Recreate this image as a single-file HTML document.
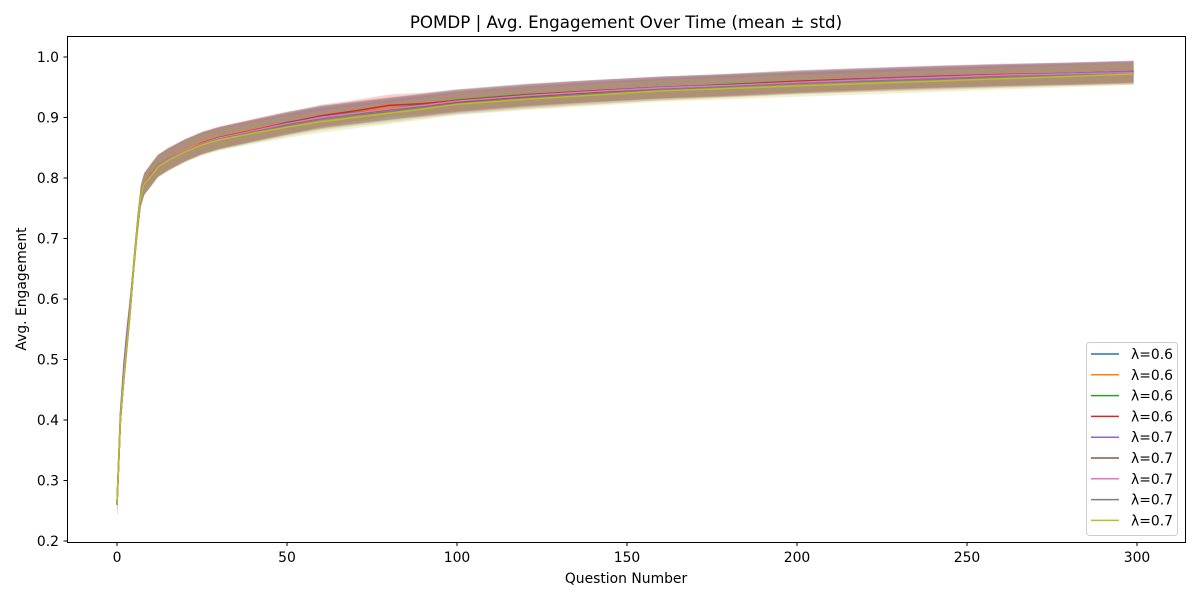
<!DOCTYPE html>
<html><head><meta charset="utf-8">
<style>
body{margin:0;background:#fff;}
svg text{font-family:"DejaVu Sans","Liberation Sans",sans-serif;fill:#000;}
</style></head>
<body>
<svg id="chart" width="1200" height="600" xmlns="http://www.w3.org/2000/svg">
<rect width="1200" height="600" fill="#fff"/>
<text x="626" y="28" text-anchor="middle" font-size="16.7">POMDP | Avg. Engagement Over Time (mean ± std)</text>
<g id="bands"></g>
<g id="lines"></g>
<rect x="67.5" y="36.5" width="1118" height="506" fill="none" stroke="#000" stroke-width="1"/>
<g id="xticks"></g>
<g id="yticks"></g>
<text x="626" y="583" text-anchor="middle" font-size="13.9">Question Number</text>
<text transform="translate(26,289) rotate(-90)" text-anchor="middle" font-size="13.9">Avg. Engagement</text>
<g id="legend"></g>
</svg>
<script>
const xs=[0,1,2,3,4,5,6,7,8,10,12,15,20,25,30,40,50,60,70,80,90,100,120,140,160,180,200,220,240,260,280,299];
const s1=[0.26,0.40,0.47,0.53,0.59,0.66,0.72,0.77,0.79,0.805,0.82,0.83,0.846,0.858,0.866,0.879,0.892,0.901,0.908,0.915,0.921,0.928,0.937,0.944,0.950,0.954,0.959,0.963,0.967,0.970,0.973,0.976];
const s2=[0.26,0.41,0.47,0.54,0.59,0.66,0.72,0.77,0.79,0.806,0.82,0.832,0.847,0.859,0.867,0.88,0.891,0.900,0.909,0.916,0.920,0.927,0.936,0.943,0.949,0.953,0.958,0.962,0.966,0.969,0.972,0.975];
const s3=[0.26,0.40,0.48,0.53,0.60,0.66,0.72,0.77,0.79,0.805,0.821,0.831,0.846,0.857,0.866,0.878,0.890,0.902,0.908,0.914,0.922,0.929,0.938,0.944,0.949,0.955,0.960,0.964,0.967,0.970,0.972,0.975];
const s4=[0.26,0.40,0.47,0.53,0.59,0.66,0.72,0.77,0.79,0.806,0.82,0.831,0.845,0.858,0.867,0.879,0.891,0.903,0.911,0.920,0.923,0.928,0.937,0.944,0.950,0.954,0.960,0.964,0.968,0.971,0.973,0.976];
const s5=[0.26,0.41,0.49,0.55,0.60,0.66,0.72,0.77,0.79,0.805,0.82,0.832,0.846,0.857,0.866,0.878,0.889,0.901,0.907,0.914,0.920,0.926,0.936,0.943,0.950,0.953,0.958,0.963,0.967,0.970,0.973,0.976];
const s6=[0.26,0.40,0.47,0.53,0.59,0.66,0.72,0.77,0.79,0.804,0.819,0.83,0.845,0.857,0.865,0.877,0.889,0.899,0.906,0.913,0.919,0.925,0.934,0.941,0.947,0.952,0.957,0.961,0.965,0.968,0.971,0.974];
const s7=[0.26,0.40,0.47,0.53,0.59,0.66,0.72,0.77,0.79,0.805,0.82,0.831,0.846,0.857,0.866,0.878,0.890,0.900,0.907,0.914,0.920,0.927,0.936,0.943,0.949,0.953,0.958,0.962,0.966,0.970,0.972,0.974];
const s8=[0.26,0.40,0.47,0.53,0.59,0.66,0.72,0.77,0.79,0.804,0.819,0.83,0.844,0.856,0.864,0.876,0.887,0.897,0.904,0.910,0.917,0.923,0.932,0.939,0.946,0.951,0.956,0.960,0.963,0.967,0.970,0.972];
const s9=[0.26,0.40,0.47,0.53,0.59,0.66,0.72,0.77,0.79,0.803,0.818,0.829,0.843,0.855,0.863,0.874,0.884,0.893,0.900,0.907,0.914,0.922,0.930,0.937,0.944,0.948,0.952,0.956,0.960,0.964,0.968,0.972];
const series=[s1,s2,s3,s4,s5,s6,s7,s8,s9];
const labels=["λ=0.6","λ=0.6","λ=0.6","λ=0.6","λ=0.7","λ=0.7","λ=0.7","λ=0.7","λ=0.7"];
const stds=[0.018,0.018,0.018,0.018,0.018,0.018,0.018,0.018,0.018];
const xTicks=[0,50,100,150,200,250,300];
const yTicks=[0.2,0.3,0.4,0.5,0.6,0.7,0.8,0.9,1.0];
const colors=["#1f77b4","#ff7f0e","#2ca02c","#d62728","#9467bd","#8c564b","#e377c2","#7f7f7f","#bcbd22"];
const X=v=>117+v*3.4, Y=v=>541-(v-0.2)*605;
const NS="http://www.w3.org/2000/svg";
function mk(t,a,p){const e=document.createElementNS(NS,t);for(const k in a)e.setAttribute(k,a[k]);p.appendChild(e);return e;}
const bands=document.getElementById('bands'),lines=document.getElementById('lines');
series.forEach((s,i)=>{
 const up=s.map((v,j)=>X(xs[j])+','+Y(v+stds[i]));
 const dn=s.map((v,j)=>X(xs[j])+','+Y(v-stds[i])).reverse();
 const b=mk('polygon',{points:up.concat(dn).join(' '),fill:colors[i],'fill-opacity':0.2},bands);
 
 
});
series.forEach((s,i)=>{
 const l=mk('polyline',{points:s.map((v,j)=>X(xs[j])+','+Y(v)).join(' '),fill:'none',stroke:colors[i],'stroke-width':1.5},lines);
 
 
});
const xt=document.getElementById('xticks');
xTicks.forEach(t=>{
 mk('line',{x1:X(t),x2:X(t),y1:542.5,y2:546,stroke:'#000'},xt);
 const tx=mk('text',{x:X(t),y:562,'text-anchor':'middle','font-size':'13.9'},xt);tx.textContent=t;
 
 
});
const yt=document.getElementById('yticks');
yTicks.forEach(t=>{
 mk('line',{x1:63.5,x2:67.5,y1:Y(t),y2:Y(t),stroke:'#000'},yt);
 const tx=mk('text',{x:59,y:Y(t)+5,'text-anchor':'end','font-size':'13.9'},yt);tx.textContent=t.toFixed(1);
 
 
});
const lg=document.getElementById('legend');
mk('rect',{x:1086.5,y:342.5,width:91,height:193,rx:3,fill:'#fff','fill-opacity':0.8,stroke:'#ccc'},lg);
labels.forEach((lb,i)=>{
 const y=354+i*20.8;
 const g=mk('g',{},lg);
 
 
 mk('line',{x1:1091,x2:1119,y1:y,y2:y,stroke:colors[i],'stroke-width':1.5},g);
 const t=mk('text',{x:1131,y:y+5,'font-size':'13.9'},g);t.textContent=lb;
});
</script>
</body></html>
